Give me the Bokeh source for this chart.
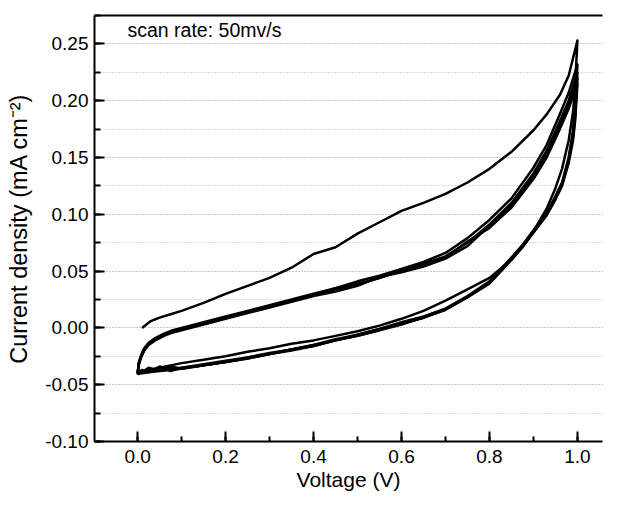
from bokeh.plotting import figure
from bokeh.models import (Range1d, SingleIntervalTicker, NumeralTickFormatter,
                          LinearAxis, Label, FixedTicker)
from bokeh.embed import file_html
from bokeh.resources import INLINE

# ---------------- data ----------------
# cycle 1, anodic scan (starts at rest potential)
V_ANODIC_1 = [0.01, 0.03, 0.05, 0.075, 0.1, 0.15, 0.2, 0.25, 0.3, 0.35, 0.4, 0.45,
              0.5, 0.55, 0.6, 0.65, 0.7, 0.75, 0.8, 0.85, 0.9, 0.93, 0.96, 0.98, 1.0]
J_ANODIC_1 = [0.000, 0.006, 0.009, 0.012, 0.015, 0.022, 0.030, 0.037, 0.044, 0.053,
              0.065, 0.071, 0.083, 0.093, 0.103, 0.110, 0.118, 0.128, 0.140, 0.155,
              0.174, 0.188, 0.205, 0.222, 0.253]

# anodic scans of later cycles
V_ANODIC = [0.0, 0.003, 0.008, 0.015, 0.025, 0.04, 0.06, 0.08, 0.1, 0.15, 0.2, 0.25,
            0.3, 0.35, 0.4, 0.45, 0.5, 0.55, 0.6, 0.65, 0.7, 0.75, 0.8, 0.85, 0.9,
            0.93, 0.96, 0.98, 1.0]
J_ANODIC_2 = [-0.040, -0.030, -0.024, -0.018, -0.013, -0.009, -0.005, -0.002, 0.000,
              0.005, 0.010, 0.015, 0.020, 0.025, 0.030, 0.035, 0.041, 0.046, 0.052,
              0.058, 0.066, 0.079, 0.095, 0.114, 0.141, 0.161, 0.188, 0.207, 0.232]
J_ANODIC_3 = [-0.040, -0.031, -0.025, -0.019, -0.014, -0.010, -0.006, -0.003, -0.001,
              0.004, 0.009, 0.014, 0.019, 0.024, 0.029, 0.034, 0.039, 0.044, 0.050,
              0.056, 0.063, 0.075, 0.091, 0.110, 0.136, 0.156, 0.182, 0.200, 0.225]
J_ANODIC_4 = [-0.041, -0.032, -0.026, -0.020, -0.015, -0.011, -0.007, -0.004, -0.002,
              0.003, 0.008, 0.013, 0.018, 0.023, 0.028, 0.032, 0.037, 0.045, 0.049,
              0.054, 0.061, 0.072, 0.090, 0.108, 0.133, 0.153, 0.178, 0.196, 0.220]
J_ANODIC_5 = [-0.040, -0.031, -0.025, -0.019, -0.014, -0.010, -0.006, -0.003, -0.001,
              0.004, 0.009, 0.014, 0.019, 0.024, 0.029, 0.035, 0.038, 0.044, 0.050,
              0.057, 0.062, 0.076, 0.088, 0.106, 0.131, 0.150, 0.175, 0.193, 0.215]

# cathodic scans
V_CATHODIC = [1.0, 0.995, 0.99, 0.98, 0.965, 0.95, 0.93, 0.9, 0.875, 0.85, 0.8, 0.75,
              0.7, 0.65, 0.6, 0.55, 0.5, 0.45, 0.4, 0.35, 0.3, 0.25, 0.2, 0.15, 0.1,
              0.075, 0.05, 0.025, 0.01, 0.0]
J_CATHODIC_1 = [0.253, 0.215, 0.190, 0.165, 0.140, 0.123, 0.105, 0.085, 0.071, 0.060,
                0.044, 0.034, 0.024, 0.015, 0.008, 0.002, -0.003, -0.007, -0.011,
                -0.014, -0.018, -0.021, -0.025, -0.028, -0.031, -0.033, -0.035,
                -0.037, -0.039, -0.040]
J_CATHODIC_2 = [0.232, 0.196, 0.174, 0.150, 0.128, 0.116, 0.101, 0.086, 0.073, 0.062,
                0.041, 0.028, 0.017, 0.010, 0.005, -0.001, -0.006, -0.010, -0.015,
                -0.019, -0.022, -0.026, -0.029, -0.032, -0.035, -0.036, -0.037,
                -0.038, -0.039, -0.040]
J_CATHODIC_3 = [0.225, 0.190, 0.170, 0.148, 0.127, 0.115, 0.100, 0.085, 0.072, 0.061,
                0.040, 0.027, 0.016, 0.009, 0.004, -0.001, -0.006, -0.011, -0.015,
                -0.019, -0.023, -0.026, -0.030, -0.033, -0.035, -0.038, -0.034,
                -0.039, -0.037, -0.040]
J_CATHODIC_4 = [0.220, 0.187, 0.168, 0.147, 0.126, 0.114, 0.100, 0.084, 0.072, 0.060,
                0.040, 0.027, 0.017, 0.009, 0.004, -0.002, -0.007, -0.011, -0.016,
                -0.019, -0.023, -0.027, -0.030, -0.033, -0.036, -0.034, -0.038,
                -0.035, -0.039, -0.041]
J_CATHODIC_5 = [0.215, 0.183, 0.165, 0.145, 0.125, 0.113, 0.099, 0.084, 0.071, 0.060,
                0.039, 0.027, 0.016, 0.009, 0.003, -0.002, -0.007, -0.011, -0.016,
                -0.020, -0.023, -0.027, -0.030, -0.033, -0.036, -0.037, -0.038,
                -0.039, -0.040, -0.040]

ANNOTATION = "scan rate: 50mv/s"
X_LABEL = "Voltage (V)"
Y_LABEL = "Current density (mA cm\u207b\u00b2)"

FONT = "Liberation Sans"

# ---------------- figure ----------------
p = figure(width=603, height=493,
           x_range=Range1d(-0.098, 1.057), y_range=Range1d(-0.1, 0.275),
           output_backend="svg", toolbar_location=None,
           min_border_left=94, min_border_top=15, min_border_right=1,
           min_border_bottom=52)
p.outline_line_color = None
p.background_fill_color = "white"
p.border_fill_color = "white"

cycles = [
    (V_ANODIC_1 + V_CATHODIC, J_ANODIC_1 + J_CATHODIC_1),
    (V_ANODIC + V_CATHODIC, J_ANODIC_2 + J_CATHODIC_2),
    (V_ANODIC + V_CATHODIC, J_ANODIC_3 + J_CATHODIC_3),
    (V_ANODIC + V_CATHODIC, J_ANODIC_4 + J_CATHODIC_4),
    (V_ANODIC + V_CATHODIC, J_ANODIC_5 + J_CATHODIC_5),
]
for xs, ys in cycles:
    p.line(xs, ys, line_color="black", line_width=2.5, line_join="round")

# axes
for ax in (p.xaxis[0], p.yaxis[0]):
    ax.axis_line_width = 2
    ax.axis_line_color = "black"
    ax.major_tick_in = 10
    ax.major_tick_out = 0
    ax.minor_tick_in = 6
    ax.minor_tick_out = 0
    ax.major_tick_line_width = 2
    ax.minor_tick_line_width = 2
    ax.major_tick_line_color = "black"
    ax.minor_tick_line_color = "black"
    ax.major_label_text_font = FONT
    ax.major_label_text_font_size = "19px"
    ax.major_label_text_color = "black"
    ax.axis_label_text_font = FONT
    ax.axis_label_text_font_style = "normal"
    ax.axis_label_text_color = "black"

p.xaxis[0].ticker = SingleIntervalTicker(interval=0.2, num_minor_ticks=2)
p.xaxis[0].formatter = NumeralTickFormatter(format="0.0")
p.xaxis[0].axis_label = X_LABEL
p.xaxis[0].axis_label_text_font_size = "21px"
p.xaxis[0].major_label_standoff = 8
p.xaxis[0].axis_label_standoff = 2
p.xaxis[0].minor_tick_in = 5

p.yaxis[0].ticker = SingleIntervalTicker(interval=0.05, num_minor_ticks=2)
p.yaxis[0].formatter = NumeralTickFormatter(format="0.00")
p.yaxis[0].axis_label = Y_LABEL
p.yaxis[0].axis_label_text_font_size = "23.5px"
p.yaxis[0].major_label_standoff = 6
p.yaxis[0].axis_label_standoff = 10

top = LinearAxis(ticker=FixedTicker(ticks=[]), axis_line_width=2,
                 axis_line_color="black", major_tick_out=0, minor_tick_out=0,
                 major_label_standoff=0, major_label_text_font_size="0px")
p.add_layout(top, "above")

# grid
p.xgrid.grid_line_color = None
p.ygrid.grid_line_color = "#b8b8b8"
p.ygrid.grid_line_dash = "1 2"
p.ygrid.grid_line_width = 1
p.ygrid.minor_grid_line_color = "#b8b8b8"
p.ygrid.minor_grid_line_dash = "1 2"
p.ygrid.minor_grid_line_width = 1

# annotation in the upper-left corner of the frame (screen units from frame bottom-left)
p.add_layout(Label(x=33, y=423, x_units="screen", y_units="screen",
                   text=ANNOTATION, text_font=FONT, text_font_size="19.5px",
                   text_baseline="top", text_color="black"))

open("out.html", "w").write(file_html(p, INLINE))
